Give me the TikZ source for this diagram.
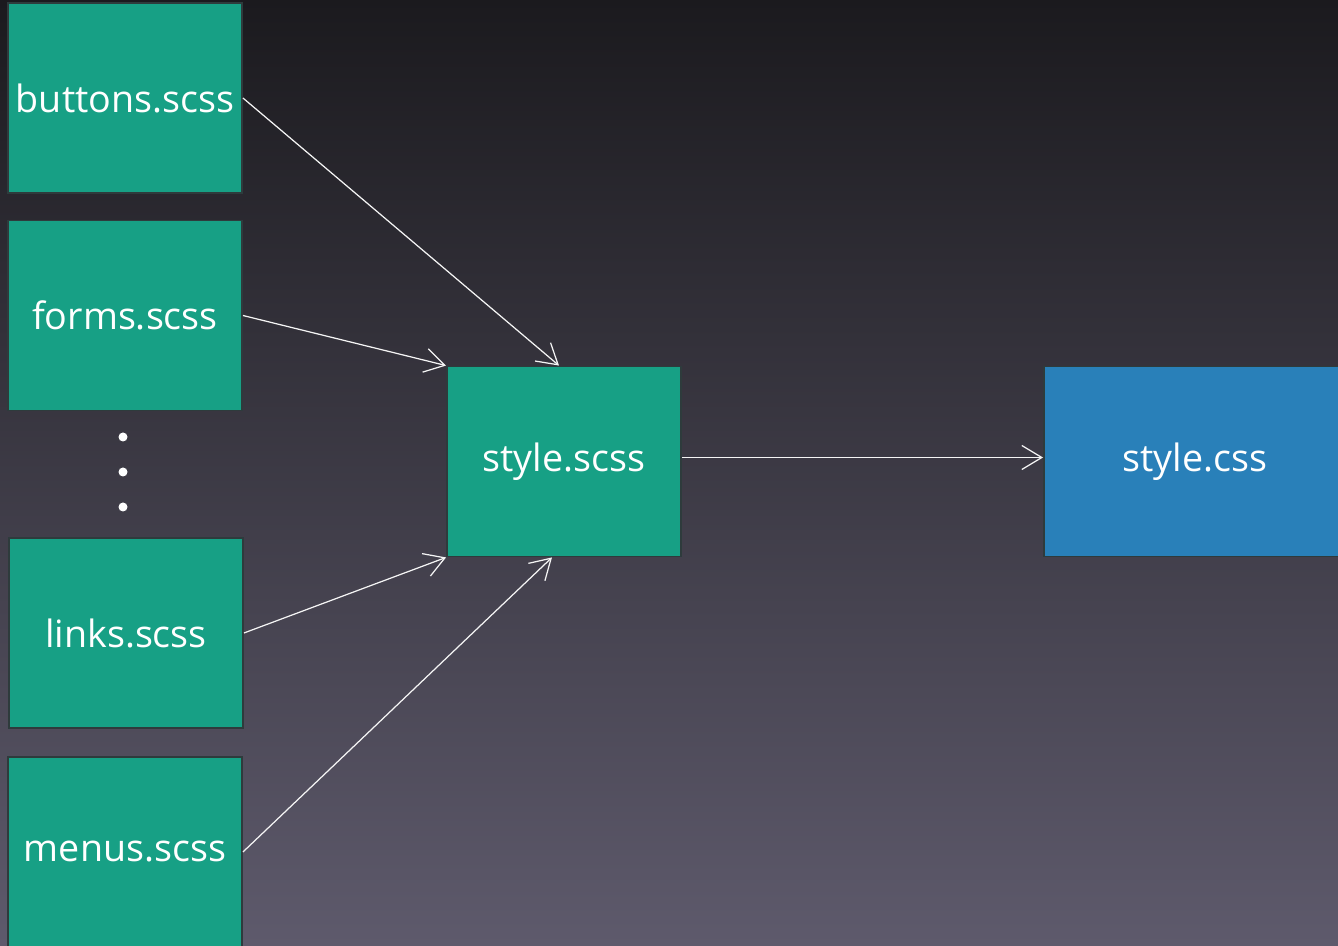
\documentclass[tikz,border=0pt]{standalone}
\usepackage{fontspec}
\setmainfont{Open Sans}
\usetikzlibrary{arrows.meta}

\definecolor{bgtop}{HTML}{1B1A1E}
\definecolor{bgbottom}{HTML}{5E5A6C}
\definecolor{scssgreen}{HTML}{17A085}
\definecolor{cssblue}{HTML}{2980B9}
\definecolor{boxline}{HTML}{2E3B3C}

\tikzset{
    file/.style={draw=boxline,line width=0.5pt,text=white,minimum width=2.34cm,
        minimum height=1.9cm,inner sep=0pt,font=\fontsize{10.7}{12}\selectfont},
    scssfile/.style={file,fill=scssgreen},
    cssfile/.style={file,fill=cssblue,minimum width=3.02cm},
    compile/.style={draw=white!92!gray,line width=0.35pt,
        -{Straight Barb[length=0.2cm,width=0.24cm,line width=0.35pt]}}
}

\begin{document}
\begin{tikzpicture}[x=0.01cm,y=-0.01cm]
            \useasboundingbox (0,0) rectangle (1338,946);
            \shade[top color=bgtop,bottom color=bgbottom] (0,0) rectangle (1338,946);
            \clip (0,0) rectangle (1338,946);

            % partials
            \node[scssfile] (buttons) at (125,98) {buttons.scss};
            \node[scssfile] (forms) at (125,315.5) {forms.scss};
            \node[scssfile] (links) at (126,633) {links.scss};
            \node[scssfile] (menus) at (125,852) {menus.scss};

            \foreach \y in {437,472,507}
                \fill[white] (123,\y) circle (4.5);

            % main file and output
            \node[scssfile] (stylescss) at (564,461.5) {style.scss};
            \node[cssfile] (stylecss) at (1195,461.5) {style.css};

            \draw[compile] (buttons.east) -- ([xshift=-0.05cm]stylescss.north);
            \draw[compile] (forms.east) -- (stylescss.north west);
            \draw[compile] (links.east) -- (stylescss.south west);
            \draw[compile] (menus.east) -- ([xshift=-0.12cm]stylescss.south);
            \draw[compile] ([yshift=0.04cm]stylescss.east) -- ([yshift=0.04cm]stylecss.west);

        \end{tikzpicture}
\end{document}
